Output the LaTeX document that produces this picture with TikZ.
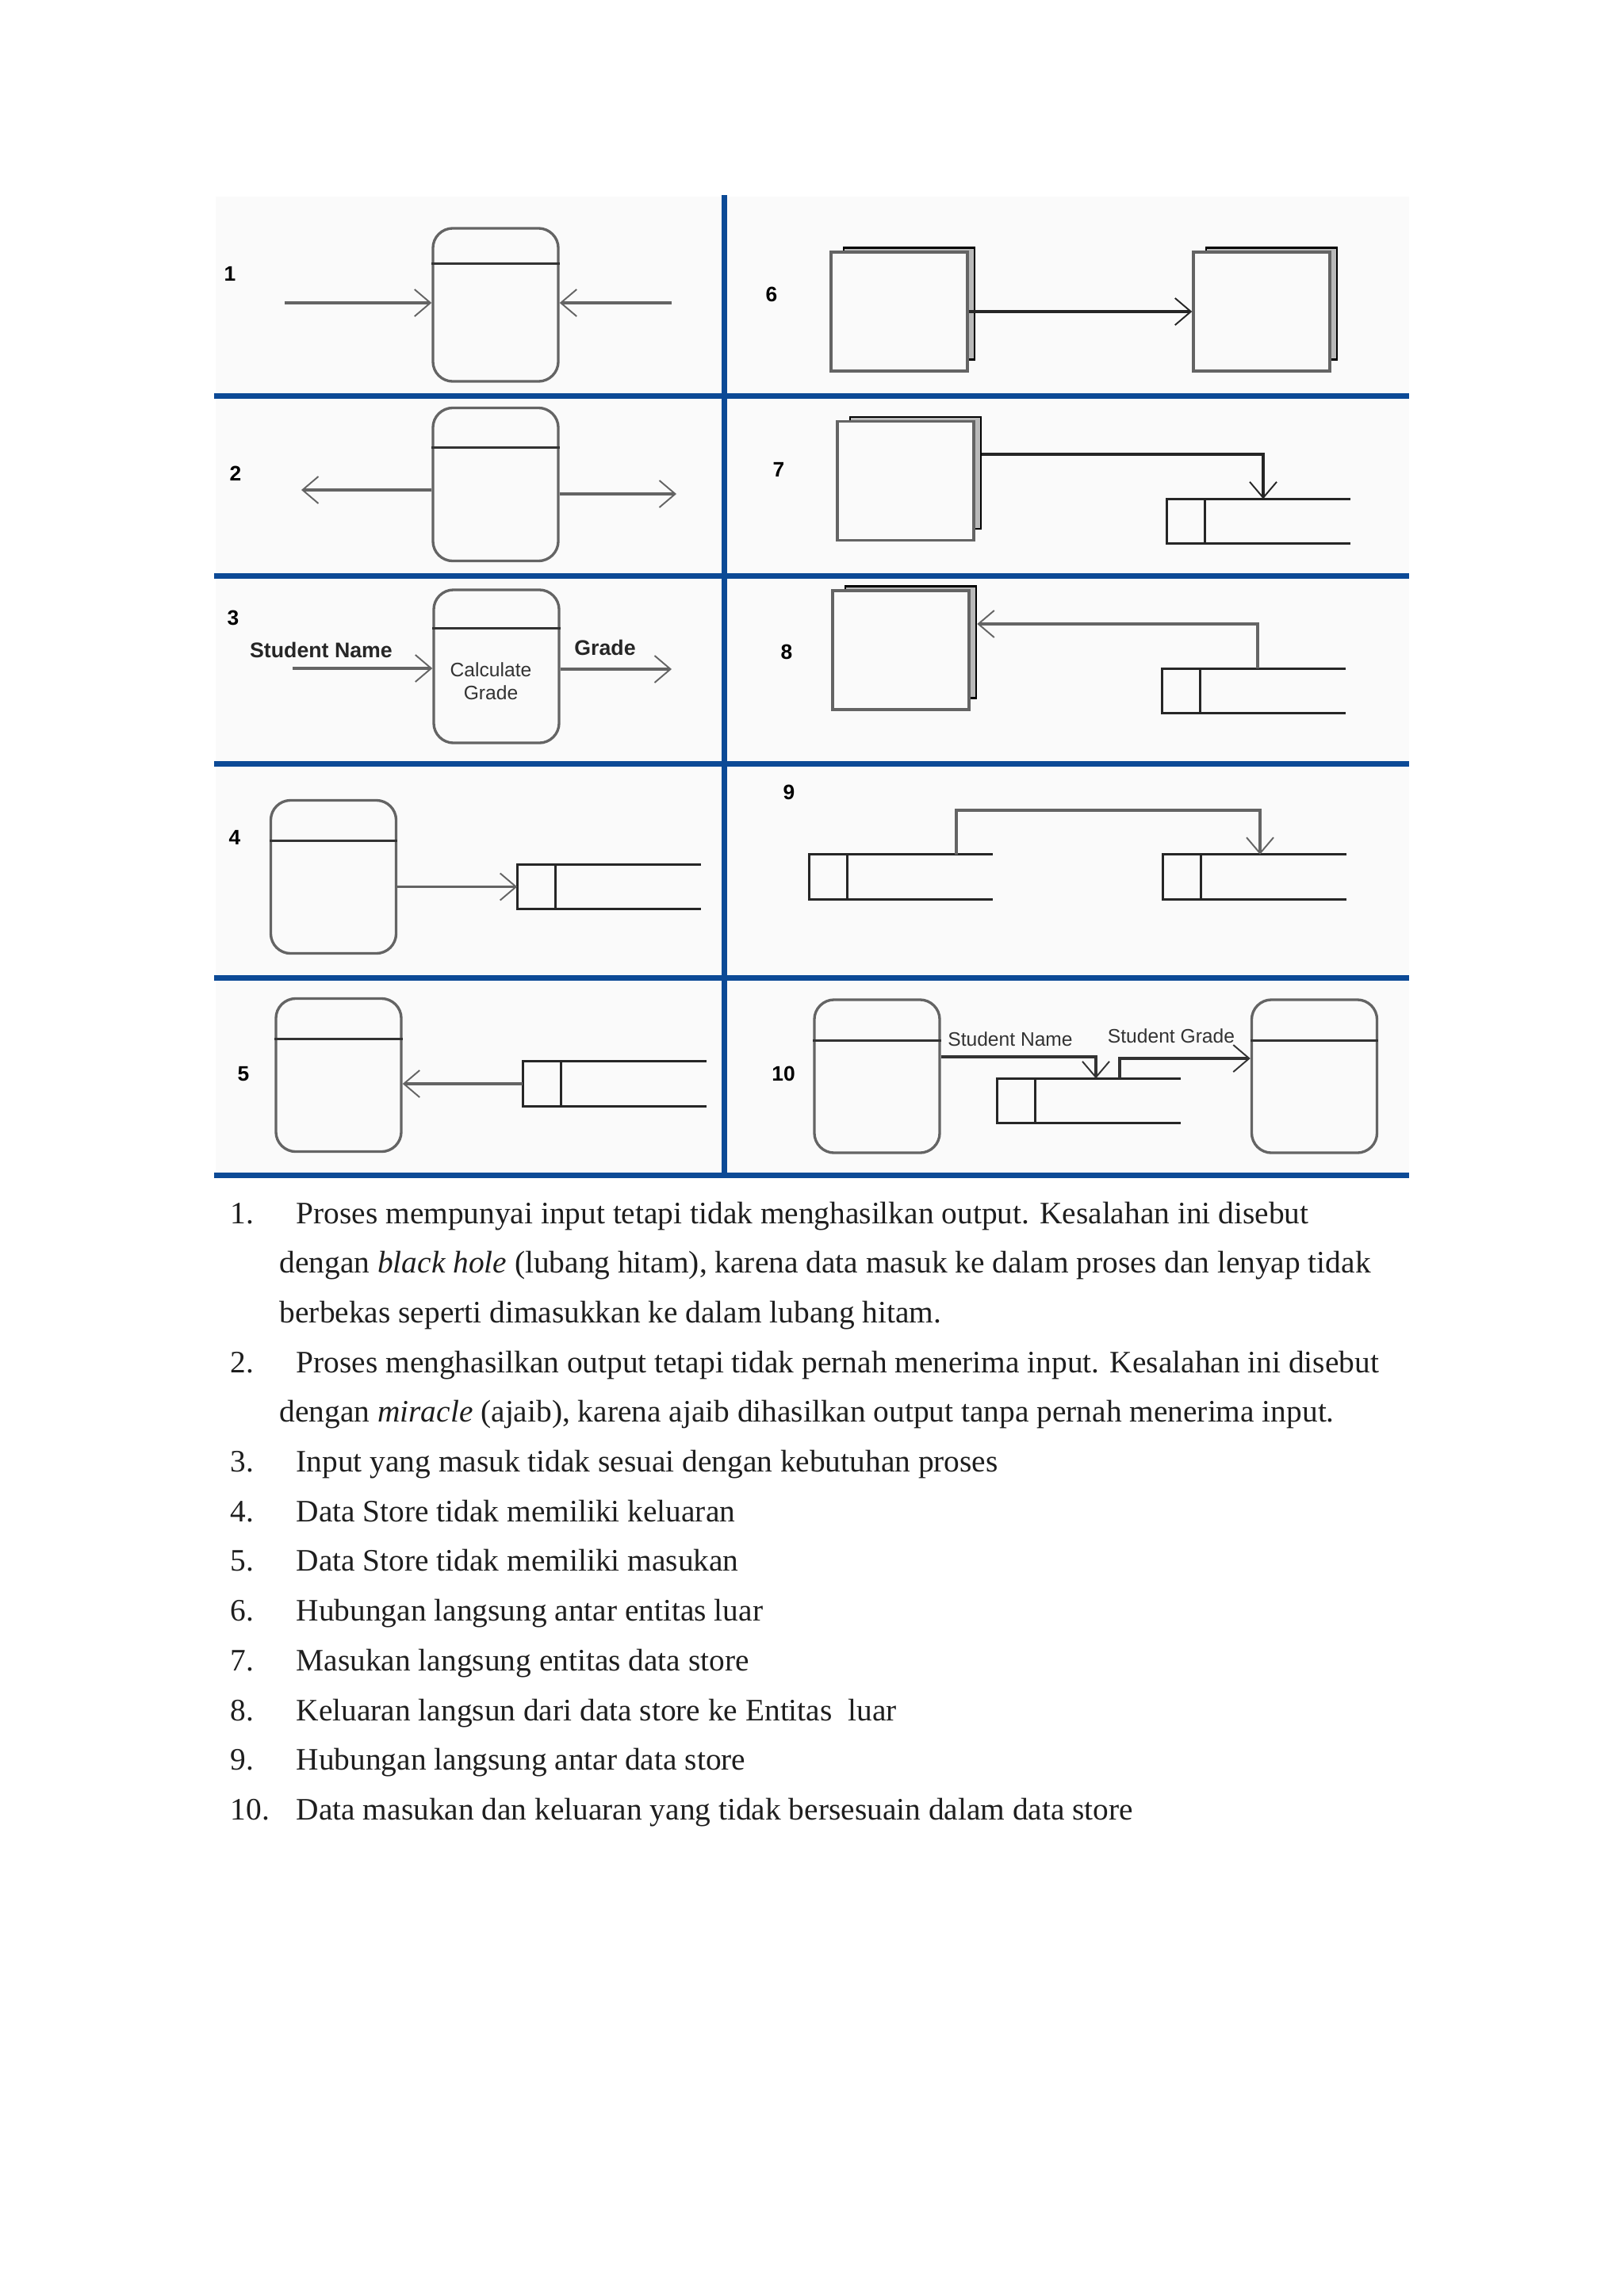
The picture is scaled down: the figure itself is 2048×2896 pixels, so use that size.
\documentclass[tikz,border=0pt]{standalone}
\usepackage{fontspec}
\setmainfont{Liberation Serif}
\newfontfamily\diagfont{Liberation Sans}
\usetikzlibrary{arrows.meta}
\definecolor{gridblue}{RGB}{12,74,150}
\definecolor{panelbg}{RGB}{250,250,250}
\definecolor{linegray}{RGB}{100,100,100}
\definecolor{bodytext}{RGB}{30,30,30}
\newcommand\DrawStore[1]{%
  \draw[storeline] (#1.north east) -- (#1.north west) -- (#1.south west) -- (#1.south east);
  \draw[storeline] ([xshift=0.48cm]#1.north west) -- ([xshift=0.48cm]#1.south west);}
\newcommand\DrawDivider[2]{%
  \draw[divline] ([yshift=-#2]#1.north west) -- ([yshift=-#2]#1.north east);}
\begin{document}
\begin{tikzpicture}[x=0.01cm,y=-0.01cm,
  tipstyle/.style={-{Straight Barb[length=0.2cm,width=0.34cm,line width=0.55pt]}},
  flow/.style={draw=linegray,line width=1pt,tipstyle},
  proc/.style={draw=linegray,line width=0.95pt,rounded corners=0.25cm,minimum width=1.58cm,minimum height=1.93cm,inner sep=0pt},
  divline/.style={draw=black!80,line width=0.8pt},
  storebox/.style={minimum width=2.3cm,minimum height=0.55cm,inner sep=0pt},
  storeline/.style={draw=black!85,line width=0.9pt},
  entback/.style={draw=black,line width=0.7pt,fill=gray!55,minimum width=1.65cm,minimum height=1.41cm,inner sep=0pt},
  ent/.style={draw=linegray,line width=0.95pt,fill=panelbg,minimum width=1.72cm,minimum height=1.5cm,inner sep=0pt},
  num/.style={font=\diagfont\bfseries\fontsize{7.5pt}{8.5pt}\selectfont,inner sep=0pt,text=black},
  blabel/.style={font=\diagfont\bfseries\fontsize{7.6pt}{9pt}\selectfont,inner sep=0pt,text=black!85},
  rlabel/.style={font=\diagfont\fontsize{7pt}{8.4pt}\selectfont,inner sep=0pt,text=black!80,align=center},
  gridline/.style={draw=gridblue,line width=0.07cm},
  body/.style={font=\fontsize{11.2pt}{13pt}\selectfont,inner sep=0pt,anchor=base west,text=bodytext}
]
\fill[white] (0,0) rectangle (2048,2896);
\useasboundingbox (0,0) rectangle (2048,2896);
\fill[panelbg] (272,248) rectangle (1777,1482);

% grid
\draw[gridline] (913,246) -- (913,1482);
\foreach \yy in {499,726,963,1233,1482} {\draw[gridline] (270,\yy) -- (1777,\yy);}

% numbers
\node[num] (n1) at (290,345) {1};
\node[num] (n2) at (297,597) {2};
\node[num] (n3) at (294,779) {3};
\node[num] (n4) at (296,1056) {4};
\node[num] (n5) at (307,1355) {5};
\node[num] (n6) at (973,371) {6};
\node[num] (n7) at (982,592) {7};
\node[num] (n8) at (992,822) {8};
\node[num] (n9) at (995,999) {9};
\node[num] (n10) at (988,1354) {10};

% row 1
\node[proc] (p1) at (625,384.5) {};
\DrawDivider{p1}{0.46cm}
\coordinate (a1l) at (359,382);
\coordinate (a1r) at (847,382);
\draw[flow] (a1l) -- (p1.west |- a1l);
\draw[flow] (a1r) -- (p1.east |- a1r);

% row 2
\node[proc] (p2) at (625,611) {};
\DrawDivider{p2}{0.52cm}
\coordinate (a2l) at (380,618);
\coordinate (a2r) at (853,623);
\draw[flow] (p2.west |- a2l) -- (a2l);
\draw[flow] (p2.east |- a2r) -- (a2r);

% row 3
\node[proc] (p3) at (626,840.5) {};
\DrawDivider{p3}{0.5cm}
\node[rlabel] (p3txt) at (619,859) {Calculate\\Grade};
\node[blabel] (l3a) at (405,820) {Student Name};
\node[blabel] (l3b) at (763,817) {Grade};
\coordinate (a3l) at (369,843);
\coordinate (a3r) at (847,844);
\draw[flow] (a3l) -- (p3.west |- a3l);
\draw[flow] (p3.east |- a3r) -- (a3r);

% row 4
\node[proc] (p4) at (420.5,1106) {};
\DrawDivider{p4}{0.53cm}
\node[storebox] (s4) at (768,1118.5) {};
\DrawStore{s4}
\draw[flow] (p4.east |- s4.west) -- (s4.west);

% row 5
\node[proc] (p5) at (427,1356) {};
\DrawDivider{p5}{0.53cm}
\node[storebox] (s5) at (775,1367) {};
\DrawStore{s5}
\draw[flow] (s5.west) -- (p5.east |- s5.west);

% row 6
\node[entback] (e6ab) at (1146.5,383) {};
\node[ent] (e6a) at (1134,393) {};
\node[entback] (e6bb) at (1603.5,383) {};
\node[ent] (e6b) at (1591,393) {};
\draw[flow,draw=black!85] (e6a.east) -- (e6b.west);

% row 7
\node[entback] (e7b) at (1154.5,596.5) {};
\node[ent] (e7) at (1142,606.5) {};
\node[storebox] (s7) at (1587,657.5) {};
\DrawStore{s7}
\coordinate (b7) at (1593,573);
\draw[flow,draw=black!85] (e7b.east |- b7) -- (b7) -- (b7 |- s7.north);

% row 8
\node[entback] (e8b) at (1148.5,810) {};
\node[ent] (e8) at (1136,820) {};
\node[storebox] (s8) at (1581,871.5) {};
\DrawStore{s8}
\coordinate (b8) at (1586,787);
\draw[flow] (b8 |- s8.north) -- (b8) -- (e8b.east |- b8);

% row 9
\node[storebox] (s9a) at (1136,1106) {};
\DrawStore{s9a}
\node[storebox] (s9b) at (1582.5,1106) {};
\DrawStore{s9b}
\coordinate (b9a) at (1206,1022);
\coordinate (b9b) at (1589,1022);
\draw[flow] (b9a |- s9a.north) -- (b9a) -- (b9b) -- (b9b |- s9b.north);

% row 10
\node[proc] (p10a) at (1106,1357.5) {};
\DrawDivider{p10a}{0.53cm}
\node[proc] (p10b) at (1657.5,1357.5) {};
\DrawDivider{p10b}{0.53cm}
\node[storebox] (s10) at (1373.5,1388.5) {};
\DrawStore{s10}
\node[rlabel] (l10a) at (1274,1311) {Student Name};
\node[rlabel] (l10b) at (1477,1307) {Student Grade};
\coordinate (b10a) at (1382,1333);
\coordinate (b10b) at (1412,1335);
\draw[flow,draw=black!80] (p10a.east |- b10a) -- (b10a) -- (b10a |- s10.north);
\draw[flow,draw=black!80] (b10b |- s10.north) -- (b10b) -- (p10b.west |- b10b);

% text list
\node[body] (t1n) at (290,1543) {1.};
\node[body] (t1a) at (373,1543) {Proses mempunyai input tetapi tidak menghasilkan output. Kesalahan ini disebut};
\node[body] (t1b) at (352,1605.7) {dengan \textit{black hole} (lubang hitam), karena data masuk ke dalam proses dan lenyap tidak};
\node[body] (t1c) at (352,1668.4) {berbekas seperti dimasukkan ke dalam lubang hitam.};
\node[body] (t2n) at (290,1731.1) {2.};
\node[body] (t2a) at (373,1731.1) {Proses menghasilkan output tetapi tidak pernah menerima input. Kesalahan ini disebut};
\node[body] (t2b) at (352,1793.8) {dengan \textit{miracle} (ajaib), karena ajaib dihasilkan output tanpa pernah menerima input.};
\node[body] (t3n) at (290,1856.5) {3.};
\node[body] (t3a) at (373,1856.5) {Input yang masuk tidak sesuai dengan kebutuhan proses};
\node[body] (t4n) at (290,1919.2) {4.};
\node[body] (t4a) at (373,1919.2) {Data Store tidak memiliki keluaran};
\node[body] (t5n) at (290,1981.9) {5.};
\node[body] (t5a) at (373,1981.9) {Data Store tidak memiliki masukan};
\node[body] (t6n) at (290,2044.6) {6.};
\node[body] (t6a) at (373,2044.6) {Hubungan langsung antar entitas luar};
\node[body] (t7n) at (290,2107.3) {7.};
\node[body] (t7a) at (373,2107.3) {Masukan langsung entitas data store};
\node[body] (t8n) at (290,2170) {8.};
\node[body] (t8a) at (373,2170) {Keluaran langsun dari data store ke Entitas\ \ luar};
\node[body] (t9n) at (290,2232.7) {9.};
\node[body] (t9a) at (373,2232.7) {Hubungan langsung antar data store};
\node[body] (t10n) at (290,2295.4) {10.};
\node[body] (t10a) at (373,2295.4) {Data masukan dan keluaran yang tidak bersesuain dalam data store};
\end{tikzpicture}
\end{document}
